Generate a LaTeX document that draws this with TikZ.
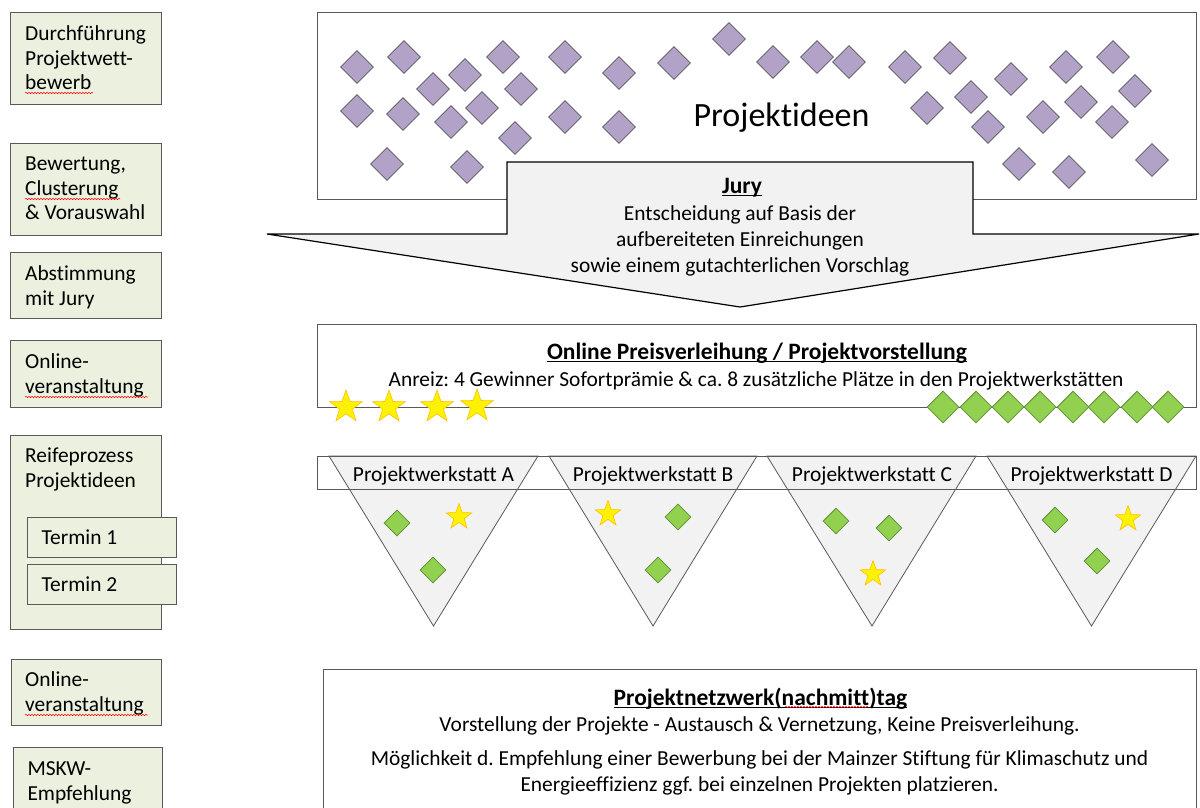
\documentclass[tikz,border=0pt]{standalone}
\usepackage{fontspec}
\setmainfont{Carlito}[Ligatures={NoCommon}]
\usetikzlibrary{shapes.geometric,decorations.pathmorphing}
\definecolor{boxgreen}{HTML}{EBF1DE}
\definecolor{lilac}{HTML}{B3A2C7}
\definecolor{leaf}{HTML}{92D050}
\definecolor{leafline}{HTML}{5F8F32}
\definecolor{gold}{HTML}{FFC000}
\definecolor{paper}{HTML}{F2F2F2}
\definecolor{edge}{HTML}{595959}
\newcommand{\wordline}[1]{\setbox0=\hbox{#1}\rlap{\rule[-2.8pt]{\wd0}{1.4pt}}\box0}
\frenchspacing

\begin{document}
\begin{tikzpicture}[x=1pt,y=-1pt,
    inner sep=0pt, %text nodes sit on their baseline
    txt/.style={font=\fontsize{21.4}{24.5}\selectfont,anchor=base},
    ttxt/.style={font=\fontsize{23.5}{27}\selectfont\bfseries,anchor=base},
    ltxt/.style={font=\fontsize{21.4}{24.5}\selectfont,anchor=base west},
    bigtxt/.style={font=\fontsize{34}{40}\selectfont,anchor=base},
    lbox/.style={draw=edge,fill=boxgreen,line width=1pt},
    frame/.style={draw=edge,fill=white,line width=1pt},
    jury/.style={draw=black,fill=paper,line width=1.2pt,line join=miter},
    tri/.style={draw=edge,fill=paper,line width=0.8pt},
    pdia/.style={diamond,draw=edge,fill=lilac,line width=0.8pt,
        minimum size=33pt},
    gdia/.style={diamond,draw=leafline,fill=leaf,line width=0.8pt,
        minimum size=32pt},
    sgdia/.style={diamond,draw=leafline,fill=leaf,line width=0.8pt,
        minimum size=26pt},
    ystar/.style={star,star points=5,star point ratio=2.5,draw=gold,
        fill=yellow,line width=0.6pt,minimum size=34pt},
    systar/.style={star,star points=5,star point ratio=2.5,draw=gold,
        fill=yellow,line width=0.6pt,minimum size=27pt},
    spell/.style={red,line width=0.5pt,decorate,
        decoration={snake,amplitude=0.7pt,segment length=3pt}},
    ]
    \clip (0,0) rectangle (1200,807);

    %Phasen links
    \draw[lbox] (10,12) rectangle (161,104);
    \node[ltxt] (t1a) at (25,40) {Durchführung};
    \node[ltxt] (t1b) at (25,65) {Projektwett-};
    \node[ltxt] (t1c) at (25,89) {bewerb};
    \draw[spell] (25,93) -- (93,93);

    \draw[lbox] (10,143) rectangle (161,235);
    \node[ltxt] (t2a) at (25,170.5) {Bewertung,};
    \node[ltxt] (t2b) at (25,195) {Clusterung};
    \node[ltxt] (t2c) at (25,219.5) {\& Vorauswahl};
    \draw[spell] (25,199) -- (120,199);

    \draw[lbox] (10,252) rectangle (161,318);
    \node[ltxt] (t3a) at (25,280) {Abstimmung};
    \node[ltxt] (t3b) at (25,305) {mit Jury};

    \draw[lbox] (10,340) rectangle (161,407);
    \node[ltxt] (t4a) at (25,368.5) {Online-};
    \node[ltxt] (t4b) at (25,393) {veranstaltung};
    \draw[spell] (25,397) -- (148,397);

    \draw[lbox] (10,435) rectangle (161,629);
    \node[ltxt] (t5a) at (25,462.8) {Reifeprozess};
    \node[ltxt] (t5b) at (25,487.5) {Projektideen};
    \draw[lbox] (27,517) rectangle (176,557);
    \node[ltxt] (t5c) at (41.5,544.5) {Termin 1};
    \draw[lbox] (27,564) rectangle (176,604);
    \node[ltxt] (t5d) at (41.5,591.8) {Termin 2};

    \draw[lbox] (11,659) rectangle (161,725);
    \node[ltxt] (t6a) at (25,686.8) {Online-};
    \node[ltxt] (t6b) at (25,711.3) {veranstaltung};
    \draw[spell] (25,715) -- (148,715);

    \draw[lbox] (13,747) rectangle (162,830);
    \node[ltxt] (t7a) at (27.3,775) {MSKW-};
    \node[ltxt] (t7b) at (27.3,800) {Empfehlung};

    %Projektideen
    \draw[frame] (317,12) rectangle (1196,199);
    \node[pdia] (p1) at (357,67) {};
    \node[pdia] (p2) at (404,57) {};
    \node[pdia] (p3) at (465,75) {};
    \node[pdia] (p4) at (433,89) {};
    \node[pdia] (p5) at (503,57) {};
    \node[pdia] (p6) at (521,89) {};
    \node[pdia] (p7) at (565,57) {};
    \node[pdia] (p8) at (619,73) {};
    \node[pdia] (p9) at (674,63) {};
    \node[pdia] (p10) at (729,39) {};
    \node[pdia] (p11) at (357,111) {};
    \node[pdia] (p12) at (403,114) {};
    \node[pdia] (p13) at (451,122) {};
    \node[pdia] (p14) at (482,108) {};
    \node[pdia] (p15) at (515,138) {};
    \node[pdia] (p16) at (565,117) {};
    \node[pdia] (p17) at (619,127) {};
    \node[pdia] (p18) at (387,164) {};
    \node[pdia] (p19) at (467,167) {};
    \node[pdia] (p20) at (773,62) {};
    \node[pdia] (p21) at (817,57) {};
    \node[pdia] (p22) at (849,62) {};
    \node[pdia] (p23) at (905,67) {};
    \node[pdia] (p24) at (950,58) {};
    \node[pdia] (p25) at (1011,79) {};
    \node[pdia] (p26) at (1066,67) {};
    \node[pdia] (p27) at (1113,57) {};
    \node[pdia] (p28) at (927,108) {};
    \node[pdia] (p29) at (971,97) {};
    \node[pdia] (p30) at (988,127) {};
    \node[pdia] (p31) at (1135,91) {};
    \node[pdia] (p32) at (1043,117) {};
    \node[pdia] (p33) at (1081,102) {};
    \node[pdia] (p34) at (1112,122) {};
    \node[pdia] (p35) at (1019,164) {};
    \node[pdia] (p36) at (1069,172) {};
    \node[pdia] (p37) at (1152,160) {};
    \node[bigtxt] (ideen) at (781.5,126.9) {Projektideen};

    %Jury
    \draw[jury] (507,162) -- (973,162) -- (973,234) -- (1199,234)
        -- (740,307) -- (267,234) -- (507,234) -- cycle;
    \node[ttxt] (j1) at (742,193.5) {\wordline{Jury}};
    \node[txt] (j2) at (740,220) {Entscheidung auf Basis der};
    \node[txt] (j3) at (740,246) {aufbereiteten Einreichungen};
    \node[txt] (j4) at (740,272) {sowie einem gutachterlichen Vorschlag};

    %Preisverleihung
    \draw[frame] (317,324) rectangle (1196,407);
    \node[ttxt] (o1) at (757,359.5)
        {\wordline{Online Preisverleihung / Projektvorstellung}};
    \node[txt] (o2) at (756,386.8) {Anreiz: 4 Gewinner Sofortprämie \& ca. 8
        zusätzliche Plätze in den Projektwerkstätten};
    \node[ystar] (s1) at (346,407) {};
    \node[ystar] (s2) at (389,407) {};
    \node[ystar] (s3) at (437,407) {};
    \node[ystar] (s4) at (477,406) {};
    \node[gdia] (g1) at (943,407) {};
    \node[gdia] (g2) at (976,407) {};
    \node[gdia] (g3) at (1008,407) {};
    \node[gdia] (g4) at (1040,407) {};
    \node[gdia] (g5) at (1073,407) {};
    \node[gdia] (g6) at (1104,407) {};
    \node[gdia] (g7) at (1137,407) {};
    \node[gdia] (g8) at (1168,407) {};

    %Projektwerkstaetten
    \fill[white] (317,456) rectangle (1196,489);
    \draw[tri] (329,456) -- (538,456) -- (433.5,626) -- cycle;
    \draw[tri] (549,456) -- (757,456) -- (653,626) -- cycle;
    \draw[tri] (767,456) -- (976,456) -- (872,626) -- cycle;
    \draw[tri] (987,456) -- (1196,456) -- (1091.5,626) -- cycle;
    \draw[edge,line width=1pt] (317,456) rectangle (1196,489);
    \node[txt] (wA) at (433.5,481.8) {Projektwerkstatt A};
    \node[txt] (wB) at (653,481.8) {Projektwerkstatt B};
    \node[txt] (wC) at (872,481.8) {Projektwerkstatt C};
    \node[txt] (wD) at (1091.5,481.8) {Projektwerkstatt D};
    \node[sgdia] (a1) at (397,523) {};
    \node[systar] (a2) at (459,517) {};
    \node[sgdia] (a3) at (433,570) {};
    \node[systar] (b1) at (608,514) {};
    \node[sgdia] (b2) at (678,517) {};
    \node[sgdia] (b3) at (658,570) {};
    \node[sgdia] (c1) at (836,521) {};
    \node[sgdia] (c2) at (889,528) {};
    \node[systar] (c3) at (873,574) {};
    \node[sgdia] (d1) at (1055,520) {};
    \node[systar] (d2) at (1128,519) {};
    \node[sgdia] (d3) at (1097,561) {};

    %Netzwerktag
    \draw[frame] (323,669) rectangle (1196,830);
    \node[ttxt] (n1) at (760.5,705.2)
        {\wordline{Projektnetzwerk(nachmitt)tag}};
    \draw[spell] (785,707) -- (868,707);
    \node[txt] (n2) at (759.5,731.8) {Vorstellung der Projekte - Austausch \&
        Vernetzung, Keine Preisverleihung.};
    \node[txt] (n3) at (759.5,765.2) {Möglichkeit d. Empfehlung einer Bewerbung
        bei der Mainzer Stiftung für Klimaschutz und};
    \node[txt] (n4) at (759.5,791.8) {Energieeffizienz ggf. bei einzelnen
        Projekten platzieren.};

\end{tikzpicture}
\end{document}
